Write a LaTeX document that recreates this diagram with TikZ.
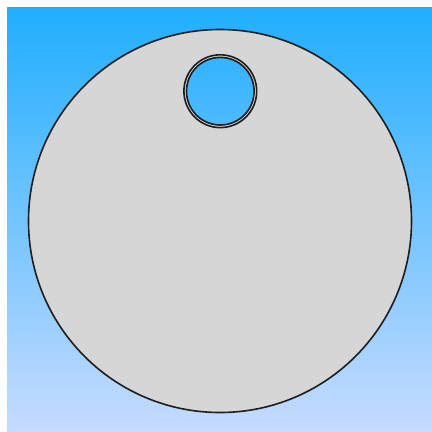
\documentclass[tikz,border=0pt]{standalone}
\definecolor{bgtop}{RGB}{32,174,255}
\definecolor{bgbot}{RGB}{198,219,255}
\definecolor{disc}{RGB}{214,214,214}
\definecolor{edge}{RGB}{30,30,30}
\begin{document}
\begin{tikzpicture}[x=1pt,y=-1pt,
  rim/.style={draw=edge,line width=1.6pt}]
\useasboundingbox (0,0) rectangle (432,432);
\shade[top color=bgtop,bottom color=bgbot] (7,7) rectangle (432,432);
\fill[disc,even odd rule] (220,221) circle[radius=191.5] (220.3,91.2) circle[radius=34.3];
\node[circle,minimum size=383pt,inner sep=0pt,rim] (plate) at (220,221) {};
\node[circle,minimum size=72.8pt,inner sep=0pt,rim] (holeout) at (220.3,91.2) {};
\node[circle,minimum size=67.6pt,inner sep=0pt,rim] (holein) at (220.3,91.2) {};
\end{tikzpicture}
\end{document}
